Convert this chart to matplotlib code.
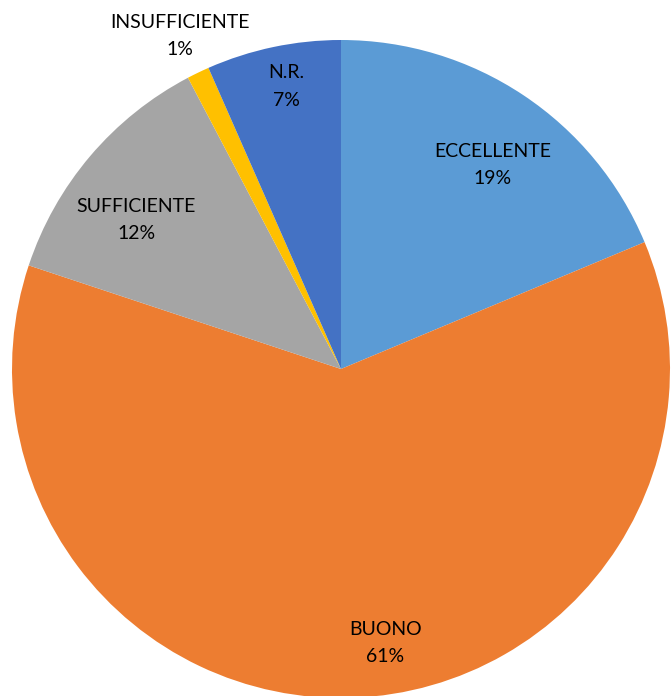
import matplotlib.pyplot as plt

categorie = ["ECCELLENTE", "BUONO", "SUFFICIENTE", "INSUFFICIENTE", "N.R."]
valori = [18.7, 61.4, 12.2, 1.1, 6.6]
colori = ["#5B9BD5", "#ED7D31", "#A5A5A5", "#FFC000", "#4472C4"]
# posizione delle etichette (coordinate del grafico, raggio = 1)
pos_etichette = [(0.462, 0.620), (0.134, -0.833), (-0.623, 0.453),
                 (-0.489, 1.012), (-0.167, 0.859)]

fig = plt.figure(figsize=(6.71, 6.96), dpi=100)
ax = fig.add_axes([12 / 671, -2 / 696, 658 / 671, 658 / 696])
ax.pie(valori, colors=colori, startangle=90, counterclock=False, radius=1,
       wedgeprops=dict(linewidth=0))
ax.set_xlim(-1, 1)
ax.set_ylim(-1, 1)
ax.set_aspect("auto")
ax.axis("off")

totale = sum(valori)
for nome, v, (x, y) in zip(categorie, valori, pos_etichette):
    ax.text(x, y, "%s\n%d%%" % (nome, round(v / totale * 100)),
            ha="center", va="center", multialignment="center",
            fontsize=14, family="Lato", color="#000000", linespacing=1.75,
            clip_on=False)

plt.savefig("out.png", dpi=100)
